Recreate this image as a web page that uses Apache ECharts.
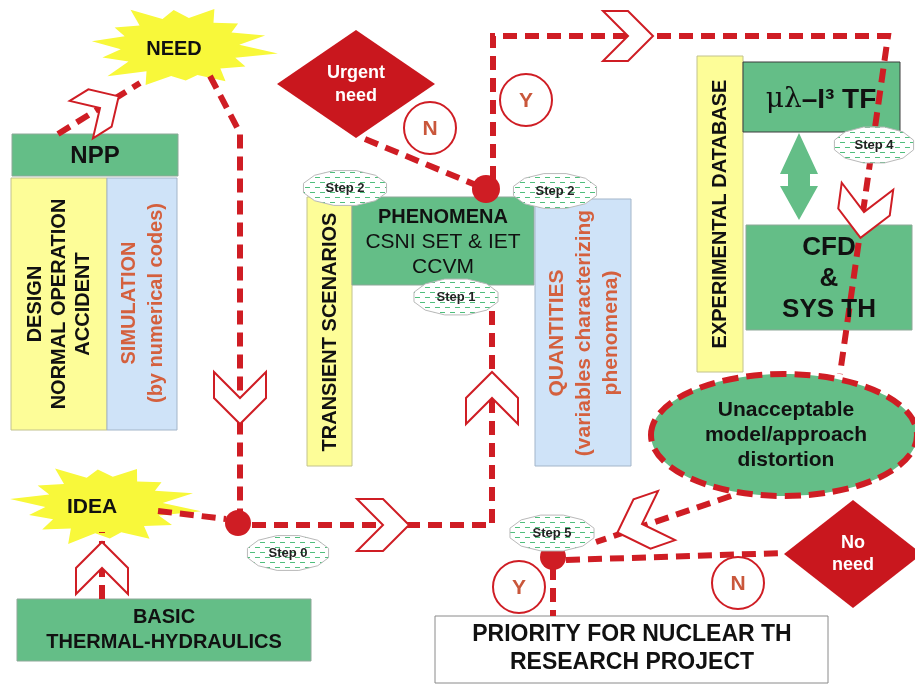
<!DOCTYPE html>
<html lang="en">
<head>
<meta charset="UTF-8">
<title>Nuclear TH research roadmap</title>
<style>
    html, body { margin: 0; padding: 0; background: #fff; }
    #chart { width: 915px; height: 685px; }
</style>
</head>
<body>
<div id="chart"></div>
<script src="https://cdn.jsdelivr.net/npm/echarts@6/dist/echarts.min.js"></script>
<script>
    // ---- texts of the diagram ----
    const burstLabels = ['NEED', 'IDEA'];
    const decisionLabels = ['Urgent\nneed', 'No\nneed'];
    const answerLabels = ['N', 'Y', 'Y', 'N'];
    const stepLabels = ['Step 2', 'Step 2', 'Step 1', 'Step 0', 'Step 4', 'Step 5'];
    const columnLabels = ['DESIGN\nNORMAL OPERATION\nACCIDENT', 'TRANSIENT SCENARIOS', 'EXPERIMENTAL DATABASE'];
    const noteLabels = ['SIMULATION\n(by numerical codes)', 'QUANTITIES\n(variables characterizing\nphenomena)'];
    const boxLabels = ['NPP', 'PHENOMENA', 'CSNI SET & IET\nCCVM', 'CFD\n&\nSYS TH',
        'BASIC\nTHERMAL-HYDRAULICS', 'PRIORITY FOR NUCLEAR TH\nRESEARCH PROJECT',
        'Unacceptable\nmodel/approach\ndistortion'];

    const RED = '#cf1d24';
    const GREEN = '#64be87';
    const YELLOW = '#fdfd98';
    const BLUE = '#cfe3f8';
    const FONT = '"Liberation Sans", Arial, sans-serif';

    const els = [];

    function rect(x, y, w, h, fill, stroke, z) {
        els.push({ type: 'rect', z: z || 1, shape: { x: x, y: y, width: w, height: h },
            style: { fill: fill, stroke: stroke, lineWidth: 1 } });
    }

    function label(x, y, text, size, color, o) {
        o = o || {};
        const st = {
            text: text, x: 0, y: 0, fill: color, fontSize: size,
            fontWeight: o.weight || 'bold', fontFamily: FONT,
            align: 'center', textAlign: 'center',
            verticalAlign: 'middle', textVerticalAlign: 'middle',
            lineHeight: o.lh || Math.round(size * 1.2)
        };
        if (o.shadow) {
            st.shadowColor = o.shadow;
            st.shadowBlur = 2;
            st.shadowOffsetX = 1.5;
            st.shadowOffsetY = 1.5;
        }
        if (o.rich) st.rich = o.rich;
        els.push({ type: 'text', z: o.z || 10, x: x, y: y, rotation: o.rot || 0, style: st });
    }

    function dash(points) {
        els.push({ type: 'polyline', z: 3, shape: { points: points },
            style: { stroke: RED, lineWidth: 6, lineDash: [14, 8], fill: null } });
    }

    function chevron(cx, cy, dx, dy, s) {
        const len = Math.hypot(dx, dy);
        const ux = dx / len, uy = dy / len, nx = -uy, ny = ux;
        const pts = [[-s, -s], [0, -s], [s, 0], [0, s], [-s, s], [0, 0]].map(function (p) {
            return [cx + p[0] * ux + p[1] * nx, cy + p[0] * uy + p[1] * ny];
        });
        els.push({ type: 'polygon', z: 4, shape: { points: pts },
            style: { fill: '#fff', stroke: RED, lineWidth: 2 } });
    }

    function dot(cx, cy, r) {
        els.push({ type: 'circle', z: 5, shape: { cx: cx, cy: cy, r: r }, style: { fill: RED } });
    }

    // star outline: one spike length per tip, inner corners on a smaller ellipse
    function burst(cx, cy, rx, ry, spikes) {
        const pts = [];
        const n = spikes.length;
        for (let i = 0; i < n; i++) {
            const a = (i / n) * Math.PI * 2 + 0.15;
            const b = ((i + 0.5) / n) * Math.PI * 2 + 0.15;
            pts.push([cx + Math.cos(a) * rx * spikes[i], cy + Math.sin(a) * ry * spikes[i]]);
            pts.push([cx + Math.cos(b) * rx * 0.6, cy + Math.sin(b) * ry * 0.68]);
        }
        els.push({ type: 'polygon', z: 2, shape: { points: pts }, style: { fill: '#f8f83a' } });
    }

    function diamond(cx, cy, hw, hh) {
        els.push({ type: 'polygon', z: 2,
            shape: { points: [[cx - hw, cy], [cx, cy - hh], [cx + hw, cy], [cx, cy + hh]] },
            style: { fill: '#c9171e' } });
    }

    function answer(cx, cy, text) {
        els.push({ type: 'circle', z: 2, shape: { cx: cx, cy: cy, r: 26 },
            style: { fill: '#fff', stroke: RED, lineWidth: 2 } });
        label(cx, cy + 1, text, 21, '#c9573b', { shadow: 'rgba(0,0,0,0.45)' });
    }

    // hatch pattern for the step bubbles
    const hatch = document.createElement('canvas');
    hatch.width = 10; hatch.height = 10;
    const hc = hatch.getContext('2d');
    hc.fillStyle = '#fff'; hc.fillRect(0, 0, 10, 10);
    hc.strokeStyle = '#4fbf7c'; hc.lineWidth = 1;
    hc.beginPath();
    hc.moveTo(0, 2.5); hc.lineTo(5, 2.5);
    hc.moveTo(5, 7.5); hc.lineTo(10, 7.5);
    hc.stroke();

    function step(cx, cy, w, h, text) {
        const pts = [];
        for (let i = 0; i < 12; i++) {
            const a = (i / 12) * Math.PI * 2 + Math.PI / 12;
            pts.push([cx + Math.cos(a) * w / 2, cy + Math.sin(a) * h / 2 * 1.03]);
        }
        els.push({ type: 'polygon', z: 6, shape: { points: pts },
            style: { fill: { image: hatch, repeat: 'repeat' }, stroke: '#b9b9b9', lineWidth: 1 } });
        label(cx, cy, text, 13, '#222', { z: 7 });
    }

    // ---- boxes ----
    rect(12, 134, 166, 42, GREEN, '#8da898');
    rect(11, 178, 96, 252, YELLOW, '#c2c28e');
    rect(107, 178, 70, 252, BLUE, '#a3b5c9');
    rect(307, 197, 45, 269, YELLOW, '#c2c28e');
    rect(352, 197, 182, 88, GREEN, '#8da898');
    rect(535, 199, 96, 267, BLUE, '#a3b5c9');
    rect(697, 56, 46, 316, YELLOW, '#c2c28e');
    rect(743, 62, 157, 70, GREEN, '#3c3c3c');
    rect(746, 225, 166, 105, GREEN, '#8da898');
    rect(17, 599, 294, 62, GREEN, '#8da898');
    rect(435, 616, 393, 67, '#fff', '#8a8a8a');

    // double arrow between the two model boxes
    els.push({ type: 'polygon', z: 2, shape: { points: [[799, 133], [818, 174], [810, 174], [810, 186], [818, 186],
        [799, 220], [780, 186], [788, 186], [788, 174], [780, 174]] }, style: { fill: GREEN } });

    // bursts and decisions
    burst(180, 47, 99, 43, [1.0, 0.8, 0.92, 0.78, 0.95, 1.0, 0.82, 0.9, 0.8, 1.0, 0.86, 0.95, 0.8, 0.9]);
    burst(104, 505, 98, 42, [1.0, 0.84, 0.93, 0.8, 1.0, 0.86, 0.8, 0.97, 0.82, 1.0, 0.85, 0.92, 0.8, 0.95]);
    diamond(356, 84, 79, 54);
    diamond(853, 554, 69, 54);

    // big ellipse
    els.push({ type: 'ellipse', z: 2, shape: { cx: 784, cy: 435, rx: 133, ry: 61 },
        style: { fill: GREEN, stroke: RED, lineWidth: 6, lineDash: [16, 8] } });

    // ---- flow lines ----
    dash([[210, 76], [240, 133], [240, 511]]);
    dash([[158, 511], [226, 519]]);
    dash([[252, 525], [492, 525], [492, 287]]);
    dash([[102, 599], [102, 532]]);
    dash([[58, 134], [140, 83]]);
    dash([[365, 139], [476, 185]]);
    dash([[493, 180], [493, 36], [888, 36], [840, 374]]);
    dash([[731, 496], [596, 542]]);
    dash([[566, 560], [784, 553]]);
    dash([[553, 566], [553, 616]]);

    chevron(100, 108, 82, -51, 22);
    chevron(240, 398, 0, 1, 26);
    chevron(383, 525, 1, 0, 26);
    chevron(492, 398, 0, -1, 26);
    chevron(102, 568, 0, -1, 26);
    chevron(628, 36, 1, 0, 25);
    chevron(864, 212, -0.135, 1, 26);
    chevron(642, 524, -133, 46, 26);

    dot(238, 523, 13);
    dot(486, 189, 14);
    dot(553, 557, 13);

    step(345, 188, 86, 35, stepLabels[0]);
    step(555, 191, 86, 35, stepLabels[1]);
    step(456, 297, 87, 36, stepLabels[2]);
    step(288, 553, 84, 35, stepLabels[3]);
    step(874, 145, 82, 36, stepLabels[4]);
    step(552, 533, 87, 36, stepLabels[5]);

    answer(430, 128, answerLabels[0]);
    answer(526, 100, answerLabels[1]);
    answer(519, 587, answerLabels[2]);
    answer(738, 583, answerLabels[3]);

    // ---- texts ----
    label(174, 49, burstLabels[0], 20, '#111');
    label(92, 507, burstLabels[1], 21, '#111');
    label(356, 85, decisionLabels[0], 18, '#fff', { lh: 23 });
    label(853, 554, decisionLabels[1], 18, '#fff', { lh: 22 });

    label(95, 156, boxLabels[0], 24, '#111');
    label(59, 304, columnLabels[0], 20, '#111', { rot: Math.PI / 2, lh: 24 });
    label(143, 303, noteLabels[0], 20, '#d4603e', { rot: Math.PI / 2, lh: 27 });
    label(330, 332, columnLabels[1], 20, '#111', { rot: Math.PI / 2 });
    label(584, 333, noteLabels[1], 21, '#d4603e', { rot: Math.PI / 2, lh: 27 });
    label(720, 214, columnLabels[2], 20, '#111', { rot: Math.PI / 2 });

    label(443, 217, boxLabels[1], 20, '#111', { shadow: 'rgba(0,0,0,0.35)' });
    label(443, 255, boxLabels[2], 21, '#111', { weight: 'normal', lh: 25 });
    label(821, 100, '{s|μλ}{b|–I³ TF}', 28, '#111', {
        rich: {
            s: { fontFamily: '"DejaVu Serif", "Liberation Serif", serif', fontSize: 28, fill: '#111' },
            b: { fontFamily: FONT, fontWeight: 'bold', fontSize: 28, fill: '#111' }
        }
    });
    label(829, 279, boxLabels[3], 26, '#111', { lh: 31 });
    label(164, 630, boxLabels[4], 20, '#111', { lh: 25 });
    label(632, 649, boxLabels[5], 23, '#111', { lh: 28, shadow: 'rgba(0,0,0,0.5)' });
    label(786, 435, boxLabels[6], 21, '#111', { lh: 25 });

    const chart = echarts.init(document.getElementById('chart'));
    chart.setOption({
        backgroundColor: '#fff',
        animation: false,
        graphic: { elements: els }
    });
</script>
</body>
</html>
